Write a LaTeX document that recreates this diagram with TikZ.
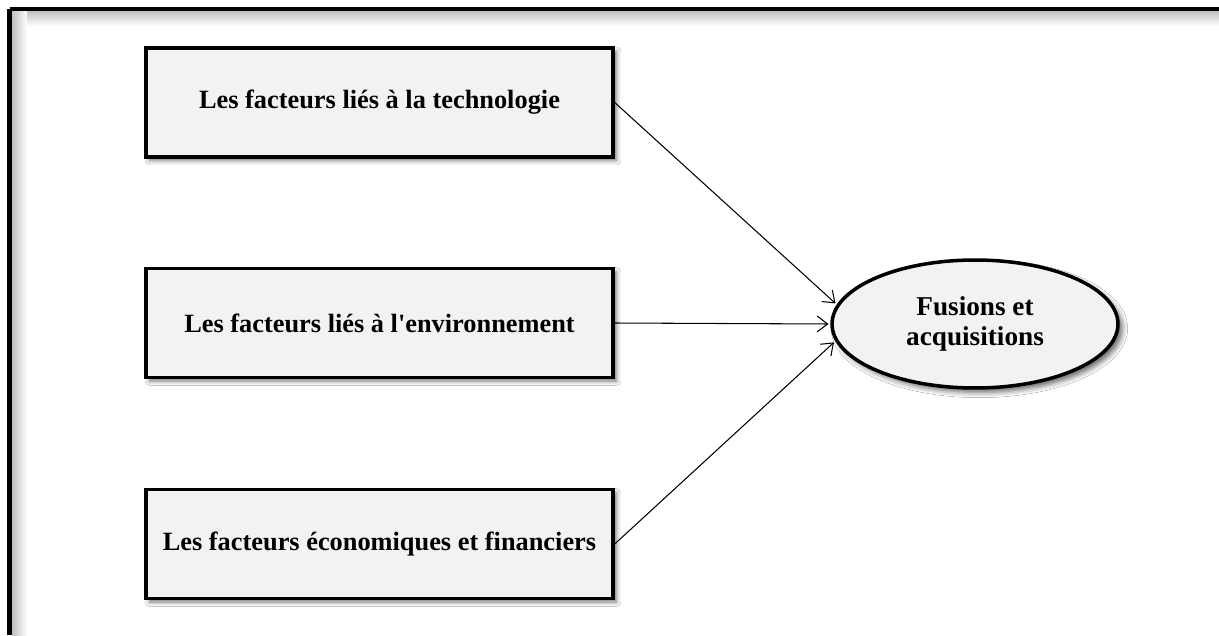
\documentclass[tikz,border=0pt]{standalone}
\usepackage{fontspec}
\setmainfont{Liberation Serif}[Ligatures=TeXOff]
\usetikzlibrary{shapes.geometric,shadows.blur,arrows.meta}
\definecolor{boxfill}{HTML}{F2F2F2}
\tikzset{
  factor/.style={draw=black, line width=2pt, fill=boxfill, rectangle,
    minimum width=9.34cm, minimum height=2.18cm, inner sep=0pt,
    font=\fontsize{15}{18}\selectfont\bfseries,
    blur shadow={shadow xshift=2pt, shadow yshift=-2pt, shadow blur radius=2.5pt, shadow opacity=55}},
  target/.style={draw=black, line width=2pt, fill=boxfill, ellipse,
    minimum width=5.72cm, minimum height=2.56cm, inner sep=0pt, align=center,
    font=\fontsize{15.5}{17.5}\selectfont\bfseries,
    blur shadow={shadow xshift=2.5pt, shadow yshift=-2.5pt, shadow blur radius=3pt, shadow opacity=60}},
  arr/.style={line width=0.6pt, -{Straight Barb[length=6pt,width=9pt,line width=0.6pt]}, shorten >=1pt},
  framebar/.style={line width=2.6pt, black}
}
\begin{document}
\begin{tikzpicture}[x=0.02cm,y=-0.02cm]
\useasboundingbox (0,0) rectangle (1219,635);
\fill[white] (0,0) rectangle (1219,635);
% frame inner shadow
\shade[top color=black!25, bottom color=white] (12,11) rectangle (1219,26);
\shade[left color=black!25, right color=white] (12,11) rectangle (27,635);
\draw[framebar] (9.5,9) -- (1219,9);
\draw[framebar] (9.5,9) -- (9.5,635);
% nodes
\node[factor] (b1) at (379.5,102.5) {Les facteurs liés à la technologie};
\node[factor] (b2) at (379.5,323) {Les facteurs liés à l'environnement};
\node[factor] (b3) at (379.5,544) {Les facteurs économiques et financiers};
\node[target] (fa) at (975,324) {Fusions et\\acquisitions};
% connectors
\draw[arr] (b1.east) -- (fa.172);
\draw[arr] (b2.east) -- (fa.180);
\draw[arr] (b3.east) -- (fa.187);
\end{tikzpicture}
\end{document}
